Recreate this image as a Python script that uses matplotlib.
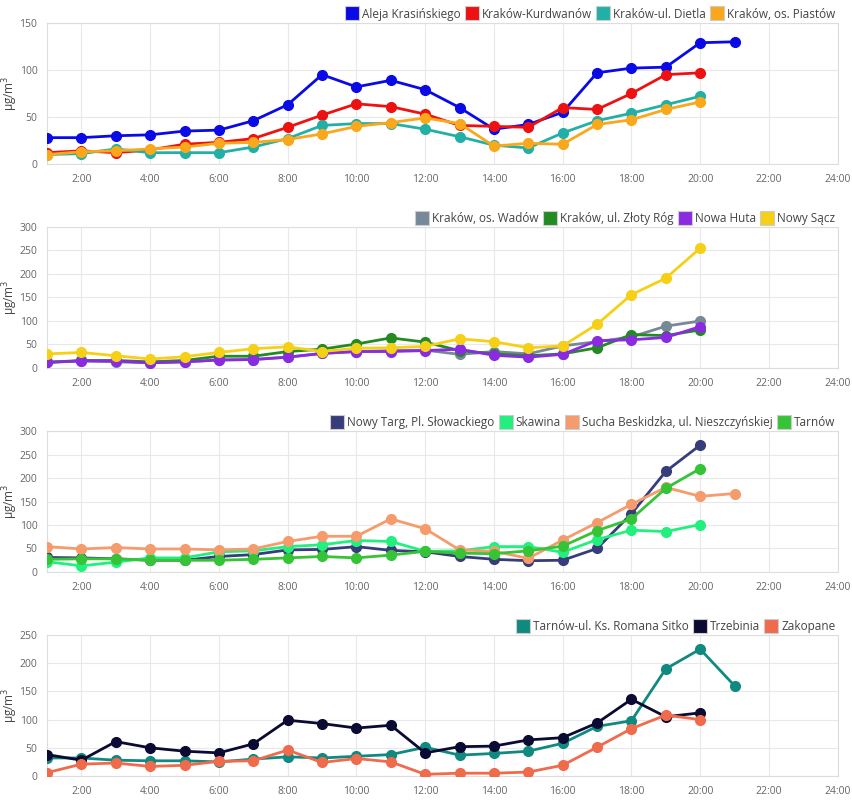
import matplotlib.pyplot as plt
from matplotlib.lines import Line2D

plt.rcParams['font.family'] = ['Open Sans', 'DejaVu Sans']

hours = list(range(1, 22))

# panel 1
aleja = [28, 28, 30, 31, 35, 36, 46, 63, 95, 82, 89, 79, 60, 37, 42, 55, 97, 102, 103, 129, 130]
kurdwanow = [12, 14, 12, 15, 21, 23, 27, 39, 52, 64, 61, 53, 41, 40, 39, 60, 58, 75, 95, 97]
dietla = [10, 11, 16, 12, 12, 12, 18, 27, 41, 43, 43, 37, 29, 20, 17, 33, 46, 54, 63, 72]
piastow = [10, 13, 14, 16, 18, 22, 23, 26, 32, 40, 44, 49, 43, 19, 22, 21, 42, 47, 58, 66]

# panel 2
wadow = [12, 15, 13, 11, 13, 17, 18, 23, 31, 35, 37, 38, 29, 35, 30, 47, 56, 66, 89, 100]
zloty_rog = [12, 16, 16, 13, 16, 25, 25, 35, 40, 51, 64, 55, 37, 30, 26, 30, 43, 71, 69, 81]
nowa_huta = [12, 15, 15, 11, 13, 17, 18, 23, 31, 35, 35, 37, 40, 27, 23, 29, 58, 60, 65, 88]
nowy_sacz = [30, 33, 26, 19, 24, 33, 41, 45, 35, 42, 43, 46, 62, 56, 43, 47, 93, 156, 191, 255]

# panel 3
nowy_targ = [31, 30, 28, 25, 25, 33, 37, 47, 48, 54, 46, 43, 33, 27, 24, 25, 50, 124, 214, 270]
skawina = [22, 13, 21, 30, 30, 43, 45, 54, 58, 67, 65, 44, 45, 54, 54, 42, 69, 89, 86, 101]
sucha = [54, 49, 52, 49, 49, 47, 49, 65, 76, 76, 113, 92, 47, 44, 29, 68, 105, 144, 180, 161, 167]
tarnow = [27, 28, 28, 25, 25, 25, 27, 30, 33, 30, 36, 44, 40, 39, 45, 55, 88, 113, 178, 220]

# panel 4
sitko = [32, 32, 28, 27, 27, 25, 30, 34, 32, 35, 38, 51, 37, 40, 44, 58, 88, 98, 190, 225, 160]
trzebinia = [38, 28, 61, 50, 44, 41, 57, 99, 93, 85, 90, 41, 52, 53, 64, 68, 94, 136, 105, 112]
zakopane = [6, 21, 23, 17, 19, 26, 27, 46, 24, 31, 25, 3, 5, 5, 7, 19, 51, 84, 108, 100]

panels = [
    (150, [50, 100, 150], [("Aleja Krasińskiego", aleja, "#0a0ae6"),
                           ("Kraków-Kurdwanów", kurdwanow, "#ee1111"),
                           ("Kraków-ul. Dietla", dietla, "#22b0a6"),
                           ("Kraków, os. Piastów", piastow, "#f9a81b")]),
    (300, [50, 100, 150, 200, 250, 300], [("Kraków, os. Wadów", wadow, "#778899"),
                           ("Kraków, ul. Złoty Róg", zloty_rog, "#228b22"),
                           ("Nowa Huta", nowa_huta, "#8a2be2"),
                           ("Nowy Sącz", nowy_sacz, "#f5d016")]),
    (300, [50, 100, 150, 200, 250, 300], [("Nowy Targ, Pl. Słowackiego", nowy_targ, "#363d7a"),
                           ("Skawina", skawina, "#22f07e"),
                           ("Sucha Beskidzka, ul. Nieszczyńskiej", sucha, "#f59b6c"),
                           ("Tarnów", tarnow, "#36c436")]),
    (250, [50, 100, 150, 200, 250], [("Tarnów-ul. Ks. Romana Sitko", sitko, "#108a80"),
                           ("Trzebinia", trzebinia, "#0a0a33"),
                           ("Zakopane", zakopane, "#f06a4c")]),
]

fig = plt.figure(figsize=(8.52, 8.01), dpi=100)
bottoms = [0.7953, 0.5406, 0.2859, 0.0312]

for (ymax, yticks, series), b in zip(panels, bottoms):
    ax = fig.add_axes([0.0552, b, 0.928, 0.176])
    handles = []
    for name, vals, col in series:
        ax.plot(hours[:len(vals)], vals, color=col, lw=2, marker='o', ms=7, zorder=3)
        handles.append(Line2D([], [], ls='none', marker='s', ms=10, mfc=col,
                              mec='#cccccc', mew=0.8, label=name))
    ax.set_xlim(1, 24)
    ax.set_ylim(0, ymax)
    ax.set_xticks(range(2, 25, 2))
    ax.set_xticklabels([f"{h}:00" for h in range(2, 25, 2)])
    ax.set_yticks([0] + yticks)
    ax.grid(color='#e8e8e8', lw=0.8)
    ax.set_axisbelow(True)
    ax.tick_params(length=0, labelsize=7.5, labelcolor='#666666', pad=7)
    for sp in ax.spines.values():
        sp.set_color('#dddddd')
    ax.set_ylabel("μg/m$^3$", fontsize=8.5, color='#444444')
    ax.yaxis.set_label_coords(-0.034, 0.5)
    ax.legend(handles=handles, loc='lower right', bbox_to_anchor=(1.0, 1.0),
              ncol=len(handles), frameon=False, fontsize=8.5, handlelength=0.9,
              handletextpad=0.4, columnspacing=0.5, borderaxespad=0.1,
              labelcolor='#444444', borderpad=0.1)

fig.savefig("out.png", dpi=100)
